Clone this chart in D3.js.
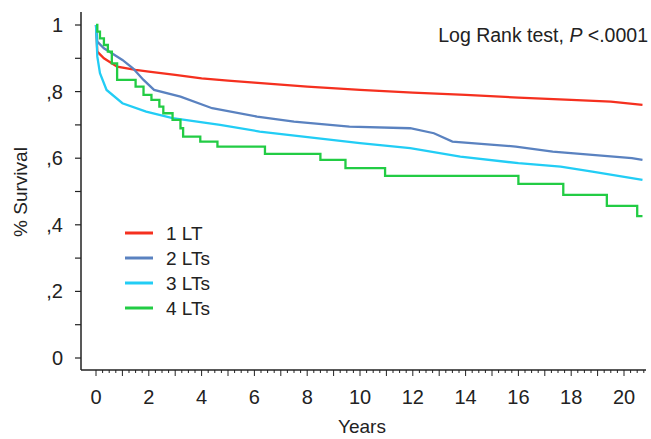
<!DOCTYPE html>
<html>
<head>
<meta charset="utf-8">
<script src="https://cdn.jsdelivr.net/npm/d3@7"></script>
<style>
  body { margin: 0; background: #fff; }
  text { font-family: "Liberation Sans", Arial, sans-serif; fill: #222; }
</style>
</head>
<body>
<script>
// survival curves
var t1 = [0, 0.05, 0.3, 0.8, 1.5, 2, 3, 4, 5, 6, 8, 10, 12, 14, 16, 18, 19.5, 20.7];
var s1 = [1, 0.92, 0.9, 0.875, 0.865, 0.86, 0.85, 0.84, 0.833, 0.827, 0.815, 0.805, 0.797, 0.79, 0.782, 0.775, 0.77, 0.76];

var t2 = [0, 0.05, 0.3, 0.6, 1.0, 1.4, 1.8, 2.2, 3.2, 4.4, 6.1, 7.5, 9.6, 11.9, 12.8, 13.5, 15.9, 17.3, 18.8, 20.3, 20.7];
var s2 = [1, 0.95, 0.93, 0.915, 0.895, 0.87, 0.835, 0.805, 0.785, 0.75, 0.725, 0.71, 0.695, 0.69, 0.675, 0.65, 0.635, 0.62, 0.61, 0.6, 0.595];

var t3 = [0, 0.05, 0.15, 0.4, 1.0, 1.9, 2.9, 4.7, 6.2, 10, 11.9, 13.8, 16, 17.6, 18.8, 20.7];
var s3 = [1, 0.905, 0.855, 0.805, 0.765, 0.74, 0.72, 0.7, 0.68, 0.645, 0.63, 0.605, 0.585, 0.575, 0.56, 0.535];

var t4 = [0, 0.05, 0.15, 0.3, 0.45, 0.6, 0.8, 1.5, 1.8, 2.1, 2.4, 2.55, 2.9, 3.2, 3.3, 3.95, 4.6, 6.4, 8.5, 9.45, 10.95, 16.0, 17.7, 19.35, 20.5, 20.7];
var s4 = [1, 0.98, 0.96, 0.94, 0.92, 0.885, 0.835, 0.815, 0.79, 0.775, 0.755, 0.735, 0.715, 0.69, 0.665, 0.65, 0.635, 0.613, 0.595, 0.57, 0.547, 0.523, 0.49, 0.457, 0.426, 0.426];

var names = ["1 LT", "2 LTs", "3 LTs", "4 LTs"];
var colors = ["#f5301f", "#5a82c0", "#22cdf5", "#22cc44"];
var yTickVals = [0, 0.2, 0.4, 0.6, 0.8, 1];
var yTickLabels = ["0", ",2", ",4", ",6", ",8", "1"];
var xTickVals = [0, 2, 4, 6, 8, 10, 12, 14, 16, 18, 20];

var width = 651, height = 439;
var svg = d3.select("body").append("svg")
  .attr("width", width)
  .attr("height", height);

var x = d3.scaleLinear().domain([0, 20]).range([96, 624]);
var y = d3.scaleLinear().domain([0, 1]).range([358, 25]);

var axisX = 81, axisY = 370;

// axes lines
svg.append("line")
  .attr("x1", axisX).attr("x2", axisX)
  .attr("y1", 12).attr("y2", axisY)
  .attr("stroke", "#222").attr("stroke-width", 1.5);
svg.append("line")
  .attr("x1", axisX).attr("x2", 646)
  .attr("y1", axisY).attr("y2", axisY)
  .attr("stroke", "#222").attr("stroke-width", 1.5);

// y ticks (major + minor)
var yMinor = d3.range(0, 1.01, 0.1);
svg.selectAll(".ytick").data(yMinor).enter().append("line")
  .attr("x1", axisX).attr("x2", axisX - 6)
  .attr("y1", function(d) { return y(d); })
  .attr("y2", function(d) { return y(d); })
  .attr("stroke", "#222").attr("stroke-width", 1.2);
svg.selectAll(".ylab").data(yTickVals).enter().append("text")
  .attr("x", 63)
  .attr("y", function(d) { return y(d) + 7; })
  .attr("text-anchor", "end")
  .attr("font-size", 20)
  .text(function(d, i) { return yTickLabels[i]; });

// x ticks: minor every quarter, longer every year
var xMinor = d3.range(0, 20.76, 0.25);
svg.selectAll(".xtick").data(xMinor).enter().append("line")
  .attr("x1", function(d) { return x(d); })
  .attr("x2", function(d) { return x(d); })
  .attr("y1", axisY)
  .attr("y2", function(d) { return Math.abs(d - Math.round(d)) < 1e-6 ? axisY + 6 : axisY + 3; })
  .attr("stroke", "#222").attr("stroke-width", 1);
svg.selectAll(".xlab").data(xTickVals).enter().append("text")
  .attr("x", function(d) { return x(d); })
  .attr("y", 404)
  .attr("text-anchor", "middle")
  .attr("font-size", 20)
  .text(function(d) { return d; });

// axis titles
svg.append("text")
  .attr("x", 362).attr("y", 433)
  .attr("text-anchor", "middle")
  .attr("font-size", 19)
  .text("Years");
svg.append("text")
  .attr("transform", "translate(27,192) rotate(-90)")
  .attr("text-anchor", "middle")
  .attr("font-size", 19)
  .text("% Survival");

// curves
var series = [[t1, s1], [t2, s2], [t3, s3], [t4, s4]];
series.forEach(function(s, i) {
  var pts = s[0].map(function(t, j) { return [t, s[1][j]]; });
  var line = d3.line()
    .x(function(d) { return x(d[0]); })
    .y(function(d) { return y(d[1]); })
    .curve(i === 3 ? d3.curveStepAfter : d3.curveLinear);
  svg.append("path")
    .datum(pts)
    .attr("fill", "none")
    .attr("stroke", colors[i])
    .attr("stroke-width", 2.3)
    .attr("d", line);
});

// legend
var leg = svg.selectAll(".leg").data(names).enter().append("g")
  .attr("transform", function(d, i) { return "translate(125," + (233 + i * 25) + ")"; });
leg.append("line")
  .attr("x1", 0).attr("x2", 28)
  .attr("stroke", function(d, i) { return colors[i]; })
  .attr("stroke-width", 3);
leg.append("text")
  .attr("x", 41).attr("y", 7)
  .attr("font-size", 19)
  .text(function(d) { return d; });

// annotation
var ann = svg.append("text")
  .attr("x", 648).attr("y", 42)
  .attr("text-anchor", "end")
  .attr("font-size", 19.5);
ann.append("tspan").text("Log Rank test, ");
ann.append("tspan").attr("font-style", "italic").text("P");
ann.append("tspan").text(" <.0001");
</script>
</body>
</html>
